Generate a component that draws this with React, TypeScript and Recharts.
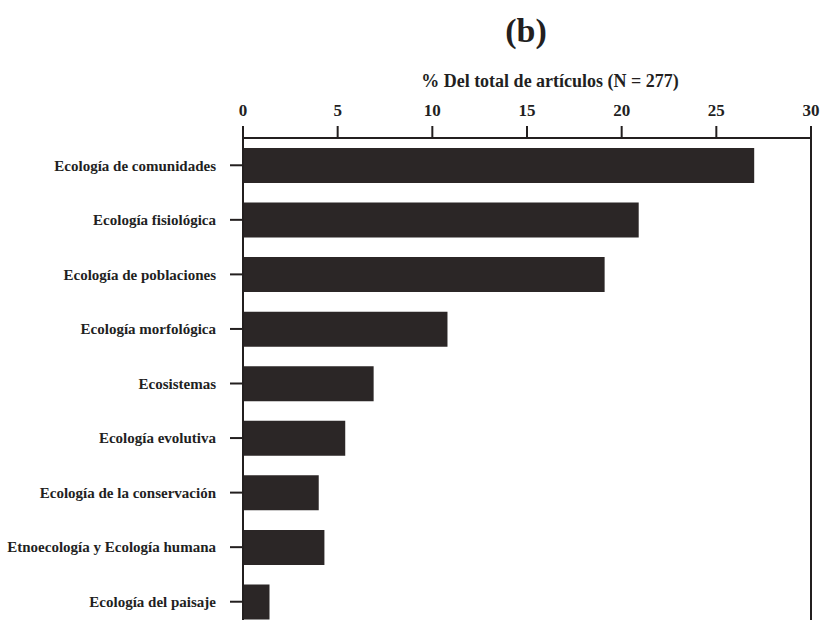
import React from 'react'
import { BarChart, Bar, XAxis, YAxis, ReferenceLine } from 'recharts'

const areas = [
  'Ecología de comunidades',
  'Ecología fisiológica',
  'Ecología de poblaciones',
  'Ecología morfológica',
  'Ecosistemas',
  'Ecología evolutiva',
  'Ecología de la conservación',
  'Etnoecología y Ecología humana',
  'Ecología del paisaje',
]

// % of articles (N = 277)
const percents = [27.0, 20.9, 19.1, 10.8, 6.9, 5.4, 4.0, 4.3, 1.4]

const xTicks = [0, 5, 10, 15, 20, 25, 30]

const data = areas.map((area, i) => ({ area, pct: percents[i] }))

const serif = '"Liberation Serif", "DejaVu Serif", serif'
const ink = '#231f1f'

const App: React.FC = () => {
  return (
    <div
      style={{
        position: 'absolute',
        top: 0,
        left: 0,
        width: 820,
        height: 620,
        overflow: 'hidden',
        background: '#fff',
        fontFamily: serif,
      }}
    >
      <div
        style={{
          position: 'absolute',
          top: 14,
          left: 0,
          width: 1052,
          textAlign: 'center',
          fontSize: 34,
          lineHeight: 1,
          fontWeight: 'bold',
          color: ink,
        }}
      >
        (b)
      </div>
      <div
        style={{
          position: 'absolute',
          top: 72,
          left: 0,
          width: 1100,
          textAlign: 'center',
          fontSize: 18,
          lineHeight: 1,
          fontWeight: 'bold',
          color: ink,
        }}
      >
        % Del total de artículos (N = 277)
      </div>
      <BarChart
        width={820}
        height={640}
        data={data}
        layout="vertical"
        margin={{ top: 98, right: 9, bottom: 11, left: 8 }}
        barCategoryGap={10}
      >
        <XAxis
          type="number"
          orientation="top"
          domain={[0, 30]}
          ticks={xTicks}
          height={40}
          tickSize={12}
          tickMargin={10}
          stroke={ink}
          strokeWidth={2}
          tick={{ fill: ink, fontSize: 17, fontWeight: 'bold', fontFamily: serif }}
        />
        <YAxis
          type="category"
          dataKey="area"
          width={235}
          tickSize={13}
          tickMargin={14}
          stroke={ink}
          strokeWidth={2}
          tick={{ fill: ink, fontSize: 15, fontWeight: 'bold', fontFamily: serif }}
        />
        <ReferenceLine x={30} stroke={ink} strokeWidth={2} />
        <Bar dataKey="pct" fill="#2b2626" isAnimationActive={false} />
      </BarChart>
    </div>
  )
}

export default App
